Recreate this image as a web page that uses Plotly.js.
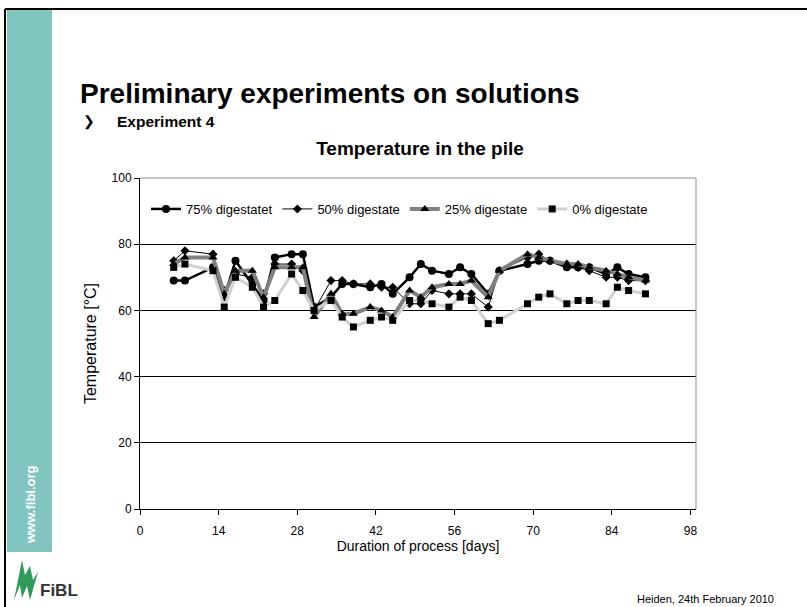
<!DOCTYPE html>
<html>
<head>
<meta charset="utf-8">
<script src="https://cdn.plot.ly/plotly-3.0.1.min.js"></script>
<style>html,body{margin:0;padding:0;background:#fff;}#chart{width:807px;height:607px;}</style>
</head>
<body>
<div id="chart"></div>
<script>
// ---- data ----
const days = [6,8,13,15,17,20,22,24,27,29,31,34,36,38,41,43,45,48,50,52,55,57,59,62,64,69,71,73,76,78,80,83,85,87,90];
const d75 = [69,69,73,64,75,68,63,76,77,77,61,64,68,68,67,68,65,70,74,72,71,73,71,65,72,74,75,75,73,73,73,71,73,71,70];
const d50 = [75,78,77,66,71,70,65,74,74,72,60,69,69,68,68,67,67,62,62,66,65,65,65,61,72,76,77,75,74,73,72,70,70,69,69];
const d25 = [74,76,76,65,72,72,64,73,73,73,58,65,59,59,61,60,58,66,64,67,68,68,69,64,72,77,76,75,74,74,73,72,71,70,69];
const d0  = [73,74,72,61,70,67,61,63,71,66,60,63,58,55,57,58,57,63,63,62,61,64,63,56,57,62,64,65,62,63,63,62,67,66,65];
const seriesNames = ["75% digestatet","50% digestate","25% digestate","0% digestate"];
const xTicks = [0,14,28,42,56,70,84,98];
const yTicks = [0,20,40,60,80,100];

// ---- layout helpers (pixel -> paper) ----
const L = 140, R = 696, T = 178, B = 509;
const W = 807, H = 607;
const px = x => (x - L) / (R - L);
const py = y => (B - y) / (B - T);
const FONT = "Arial, 'Liberation Sans', sans-serif";

const traces = [
  {x: days, y: d75, name: seriesNames[0], mode: "lines+markers",
   line: {color: "#000", width: 2.5}, marker: {symbol: "circle", size: 8, color: "#000"}},
  {x: days, y: d50, name: seriesNames[1], mode: "lines+markers",
   line: {color: "#000", width: 1}, marker: {symbol: "diamond", size: 7, color: "#000"}},
  {x: days, y: d25, name: seriesNames[2], mode: "lines+markers",
   line: {color: "#808080", width: 4}, marker: {symbol: "triangle-up", size: 8, color: "#000"}},
  {x: days, y: d0, name: seriesNames[3], mode: "lines+markers",
   line: {color: "#d0d0d0", width: 3}, marker: {symbol: "square", size: 7, color: "#000"}}
];

const layout = {
  width: W, height: H,
  margin: {l: L, r: W - R, t: T, b: H - B, pad: 0},
  paper_bgcolor: "#fff", plot_bgcolor: "#fff",
  font: {family: FONT, color: "#000", size: 12},
  showlegend: true,
  title: {text: "Temperature in the pile", font: {family: FONT, size: 19, weight: "bold", color: "#000"},
          xref: "paper", x: px(420), xanchor: "center", yref: "container", y: 1 - 148 / H, yanchor: "middle"},
  xaxis: {range: [0, 99], tickvals: xTicks, ticktext: xTicks.map(String), ticks: "outside", ticklen: 5,
          tickcolor: "#000", showline: true, linecolor: "#000", linewidth: 1, showgrid: false, zeroline: false,
          tickfont: {size: 12}, ticklabelstandoff: 6, fixedrange: true,
          title: {text: "Duration of process [days]", font: {size: 14}, standoff: 2}},
  yaxis: {range: [0, 100], tickvals: yTicks, ticktext: yTicks.map(String), ticks: "outside", ticklen: 5,
          tickcolor: "#000", showline: true, linecolor: "#000", linewidth: 1, showgrid: true,
          gridcolor: "#000", gridwidth: 1, zeroline: false, tickfont: {size: 12}, fixedrange: true,
          title: {text: "Temperature [°C]", font: {size: 16}, standoff: 10}},
  legend: {orientation: "h", x: px(146), y: py(209), xanchor: "left", yanchor: "middle",
           bgcolor: "rgba(0,0,0,0)", font: {size: 13}, itemwidth: 30, tracegroupgap: 0},
  shapes: [
    // plot border (top/right gray)
    {type: "line", xref: "paper", yref: "paper", x0: 0, x1: 1, y0: 1, y1: 1, line: {color: "#8c8c8c", width: 1}},
    {type: "line", xref: "paper", yref: "paper", x0: 1, x1: 1, y0: 0, y1: 1, line: {color: "#8c8c8c", width: 1}},
    // teal side bar
    {type: "rect", xref: "paper", yref: "paper", x0: px(7), x1: px(52), y0: py(552), y1: py(10),
     fillcolor: "#80c6bf", line: {width: 0}, layer: "below"},
    // slide border
    {type: "line", xref: "paper", yref: "paper", x0: px(5), x1: px(807), y0: py(9), y1: py(9), line: {color: "#000", width: 2}},
    {type: "line", xref: "paper", yref: "paper", x0: px(5), x1: px(5), y0: py(9), y1: py(607), line: {color: "#000", width: 2}},
    // FiBL logo leaves
    {type: "path", xref: "paper", yref: "paper",
     path: `M ${px(14)} ${py(600)} L ${px(22)} ${py(560)} L ${px(25)} ${py(575)} L ${px(30)} ${py(566)} L ${px(33)} ${py(580)} L ${px(38)} ${py(572)} L ${px(30)} ${py(600)} L ${px(27)} ${py(586)} L ${px(22)} ${py(598)} L ${px(20)} ${py(585)} Z`,
     fillcolor: "#2e9b5a", line: {width: 0}}
  ],
  annotations: [
    {text: "Preliminary experiments on solutions", xref: "paper", yref: "paper", x: px(79), y: py(94), borderpad: 0,
     xanchor: "left", yanchor: "middle", showarrow: false, font: {family: FONT, size: 28, weight: "bold", color: "#000"}},
    {text: "❯", xref: "paper", yref: "paper", x: px(82), y: py(121), borderpad: 0,
     xanchor: "left", yanchor: "middle", showarrow: false, font: {family: "'DejaVu Sans', sans-serif", size: 14, weight: "bold", color: "#000"}},
    {text: "Experiment 4", xref: "paper", yref: "paper", x: px(116), y: py(121), borderpad: 0,
     xanchor: "left", yanchor: "middle", showarrow: false, font: {family: FONT, size: 15.5, weight: "bold", color: "#000"}},
    {text: "www.fibl.org", xref: "paper", yref: "paper", x: px(30), y: py(505), textangle: -90,
     xanchor: "center", yanchor: "middle", showarrow: false, font: {family: FONT, size: 13, weight: "bold", color: "#fff"}},
    {text: "FiBL", xref: "paper", yref: "paper", x: px(38), y: py(590),
     xanchor: "left", yanchor: "middle", showarrow: false, font: {family: FONT, size: 17, weight: "bold", color: "#333"}},
    {text: "Heiden, 24th February 2010", xref: "paper", yref: "paper", x: px(776), y: py(599),
     xanchor: "right", yanchor: "middle", showarrow: false, font: {family: FONT, size: 11, color: "#000"}}
  ]
};

Plotly.newPlot("chart", traces, layout, {staticPlot: true, displayModeBar: false});
</script>
</body>
</html>
